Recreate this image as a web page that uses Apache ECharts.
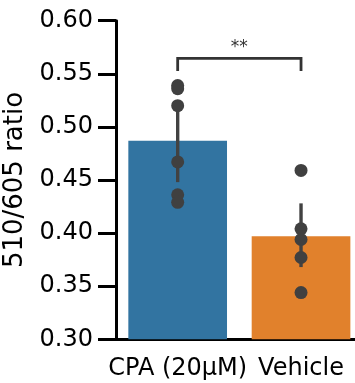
<!DOCTYPE html>
<html>
<head>
<meta charset="utf-8">
<script src="https://cdn.jsdelivr.net/npm/echarts@6/dist/echarts.min.js"></script>
<style>html,body{margin:0;padding:0;background:#fff}#c{width:355px;height:383px}</style>
</head>
<body>
<div id="c"></div>
<script>
var categories = ['CPA (20µM)', 'Vehicle'];
var barMeans = [0.487, 0.397];
var ciLow = [0.448, 0.368];
var ciHigh = [0.522, 0.428];
var cpaPoints = [0.539, 0.536, 0.520, 0.467, 0.436, 0.429];
var vehiclePoints = [0.459, 0.404, 0.394, 0.377, 0.344];
var yTicks = [0.30, 0.35, 0.40, 0.45, 0.50, 0.55, 0.60];
var bracketTop = 0.5646, bracketLeg = 0.5526;
var sigLabel = '**';

var colors = ['#3274A1', '#E1812C'];
var font = 'DejaVu Sans';
var scatterData = [];
cpaPoints.forEach(function(v){ scatterData.push([0, v]); });
vehiclePoints.forEach(function(v){ scatterData.push([1, v]); });

var chart = echarts.init(document.getElementById('c'), null, {renderer: 'canvas'});
chart.setOption({
  animation: false,
  grid: {left: 116, top: 20.7, bottom: 43.7, width: 246.7, containLabel: false, outerBoundsMode: 'none'},
  xAxis: {
    type: 'category', data: categories,
    axisLine: {lineStyle: {color: '#000', width: 3}},
    axisTick: {alignWithLabel: true, length: 16, lineStyle: {color: '#000', width: 3}},
    axisLabel: {interval: 0, fontFamily: font, fontSize: 24, color: '#000', margin: 17, hideOverlap: false}
  },
  yAxis: {
    type: 'value', min: yTicks[0], max: yTicks[yTicks.length-1], interval: 0.05,
    name: '510/605 ratio', nameLocation: 'middle', nameGap: 80,
    nameTextStyle: {fontFamily: font, fontSize: 26, color: '#000'},
    axisLine: {show: true, lineStyle: {color: '#000', width: 3}},
    axisTick: {show: true, length: 18, lineStyle: {color: '#000', width: 3}},
    splitLine: {show: false},
    axisLabel: {fontFamily: font, fontSize: 24, color: '#000', margin: 23,
      formatter: function(v){ return v.toFixed(2); }}
  },
  series: [
    {
      type: 'bar', barWidth: '80%',
      data: barMeans.map(function(v, i){ return {value: v, itemStyle: {color: colors[i]}}; }),
      z: 1
    },
    {
      type: 'custom', z: 3,
      data: categories.map(function(c, i){ return [i, ciLow[i], ciHigh[i]]; }),
      renderItem: function(params, api){
        var p1 = api.coord([api.value(0), api.value(1)]);
        var p2 = api.coord([api.value(0), api.value(2)]);
        return {type: 'line', shape: {x1: p1[0], y1: p1[1], x2: p2[0], y2: p2[1]},
          style: {stroke: '#424242', lineWidth: 3.4}};
      }
    },
    {
      type: 'scatter', symbolSize: 13, z: 4,
      itemStyle: {color: '#404040', opacity: 1},
      data: scatterData
    },
    {
      type: 'custom', z: 5,
      data: [[0, 1, bracketTop, bracketLeg]],
      renderItem: function(params, api){
        var a = api.coord([api.value(0), api.value(3)]);
        var b = api.coord([api.value(0), api.value(2)]);
        var c = api.coord([api.value(1), api.value(2)]);
        var d = api.coord([api.value(1), api.value(3)]);
        return {type: 'group', children: [
          {type: 'polyline', shape: {points: [a, b, c, d]},
            style: {stroke: '#333', lineWidth: 2.8, fill: null}},
          {type: 'text', style: {text: sigLabel, x: (b[0]+c[0])/2, y: b[1]-2,
            align: 'center', verticalAlign: 'bottom', fontFamily: font, fontSize: 17, fill: '#333'}}
        ]};
      }
    }
  ]
});
</script>
</body>
</html>
